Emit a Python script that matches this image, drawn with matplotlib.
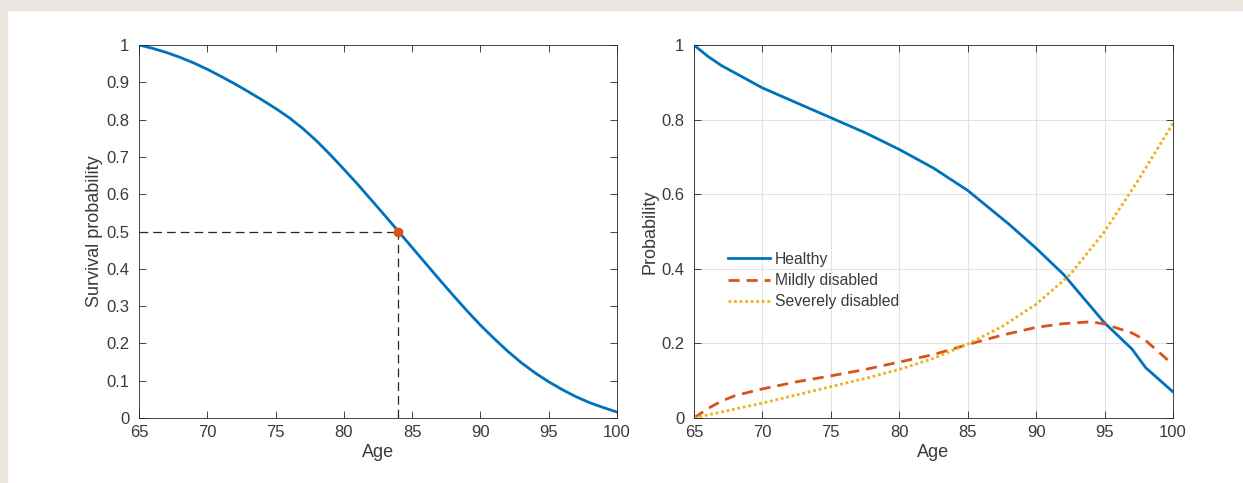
import matplotlib.pyplot as plt
import matplotlib.patches as mpatches
import numpy as np

plt.rcParams['font.family'] = ['Liberation Sans', 'DejaVu Sans']

# left panel: survival curve (read at each year)
age_s = list(range(65, 101))
surv = [1.0, 0.991, 0.980, 0.967, 0.952, 0.935, 0.916, 0.896, 0.875, 0.853,
        0.830, 0.805, 0.776, 0.743, 0.706, 0.667, 0.627, 0.585, 0.543, 0.5,
        0.457, 0.414, 0.371, 0.329, 0.288, 0.249, 0.213, 0.179, 0.148, 0.121,
        0.097, 0.076, 0.057, 0.041, 0.028, 0.016]
median_age = 84
median_p = 0.5

# right panel: state probabilities
age_h = [65, 66, 67, 68, 70, 72.5, 75, 77.5, 80, 82.5, 85, 88, 90, 92, 95, 97, 98, 100]
healthy = [1.0, 0.97, 0.945, 0.925, 0.885, 0.845, 0.805, 0.765, 0.72, 0.67, 0.61, 0.52, 0.455, 0.385, 0.255, 0.185, 0.135, 0.07]
age_m = [65, 66, 67, 68, 70, 72.5, 75, 77.5, 80, 82.5, 85, 87.5, 90, 92, 94, 95, 97, 98, 100]
mild = [0.0, 0.025, 0.045, 0.06, 0.078, 0.097, 0.113, 0.13, 0.15, 0.17, 0.197, 0.222, 0.243, 0.253, 0.258, 0.252, 0.228, 0.208, 0.143]
age_v = [65, 67.5, 70, 72.5, 75, 77.5, 80, 82.5, 85, 87.5, 90, 92.5, 95, 97.5, 100]
severe = [0.0, 0.02, 0.04, 0.062, 0.084, 0.106, 0.13, 0.16, 0.198, 0.245, 0.305, 0.385, 0.5, 0.64, 0.79]

blue, red, yellow = '#0072BD', '#D95319', '#EDB120'
axc = '#262626'
txt = '#3a3a3a'

fig = plt.figure(figsize=(12.43, 4.83), dpi=100, facecolor='white')
# beige frame at top and left
fig.patches.append(mpatches.Rectangle((0, 1 - 10 / 483), 1, 10 / 483, transform=fig.transFigure,
                                      color='#EAE6DF', zorder=0))
fig.patches.append(mpatches.Rectangle((0, 0), 7 / 1243, 1, transform=fig.transFigure,
                                      color='#EAE6DF', zorder=0))

ax1 = fig.add_axes([139 / 1243, 65 / 483, 478 / 1243, 373 / 483])
ax2 = fig.add_axes([694 / 1243, 65 / 483, 479 / 1243, 373 / 483])


def style(ax):
    ax.set_xlim(65, 100)
    ax.set_ylim(0, 1)
    ax.set_xticks(range(65, 101, 5))
    for s in ax.spines.values():
        s.set_color(axc)
        s.set_linewidth(0.6)
    ax.tick_params(direction='in', top=True, right=True, length=5, width=0.6,
                   colors=axc, labelcolor=txt, labelsize=12)
    ax.tick_params(axis='x', pad=5)
    ax.tick_params(axis='y', pad=7)
    ax.set_xlabel('Age', fontsize=13, color=txt, labelpad=3)


style(ax1)
ax1.set_yticks(np.round(np.arange(0, 1.01, 0.1), 1))
ax1.set_yticklabels(['0', '0.1', '0.2', '0.3', '0.4', '0.5', '0.6', '0.7', '0.8', '0.9', '1'])
ax1.plot([65, median_age], [median_p, median_p], color='#262626', lw=0.9, ls=(0, (7, 4)))
ax1.plot([median_age, median_age], [0, median_p], color='#262626', lw=0.9, ls=(0, (7, 4)))
ax1.plot(age_s, surv, color=blue, lw=2)
ax1.plot([median_age], [median_p], 'o', color=red, ms=6, zorder=5)
ax1.set_ylabel('Survival probability', fontsize=13, color=txt, labelpad=2)

style(ax2)
ax2.set_yticks([0, 0.2, 0.4, 0.6, 0.8, 1])
ax2.set_yticklabels(['0', '0.2', '0.4', '0.6', '0.8', '1'])
ax2.grid(True, color='#E3E3E3', lw=0.8)
ax2.set_axisbelow(True)
ax2.plot(age_h, healthy, color=blue, lw=2, label='Healthy')
ax2.plot(age_m, mild, color=red, lw=2, ls=(0, (4, 2.5)), label='Mildly disabled')
ax2.plot(age_v, severe, color=yellow, lw=2, ls=(0, (1, 1)), label='Severely disabled')
ax2.set_ylabel('Probability', fontsize=13, color=txt, labelpad=2)
leg = ax2.legend(loc='upper left', bbox_to_anchor=(0.058, 0.462), frameon=False, fontsize=11.3,
                 handlelength=2.7, handletextpad=0.3, labelspacing=0.39, borderaxespad=0)
for t in leg.get_texts():
    t.set_color(txt)

fig.savefig('out.png', dpi=100)
